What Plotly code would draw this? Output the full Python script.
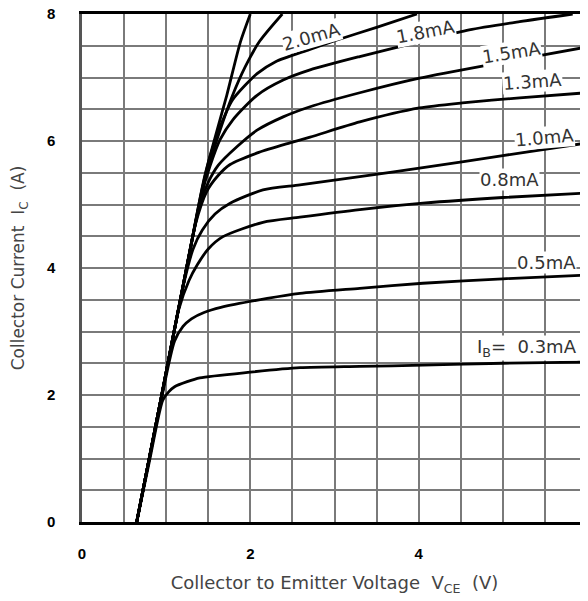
import plotly.graph_objects as go

# ---- data (Vce in V, Ic in A) ----
ib_names = ["unlabeled (top 1)", "unlabeled (top 2)", "2.0mA", "1.8mA", "1.5mA",
            "1.3mA", "1.0mA", "0.8mA", "0.5mA", "0.3mA"]

vce_s1 = [0.65, 0.95, 1.25, 1.45, 1.58, 1.72, 1.88, 2.00]
ic_s1 = [0, 2.02, 4.05, 5.40, 6.05, 6.72, 7.55, 8.0]

vce_s2 = [0.65, 0.95, 1.25, 1.45, 1.55, 1.64, 1.78, 1.94, 2.11, 2.38]
ic_s2 = [0, 2.02, 4.05, 5.35, 5.80, 6.17, 6.69, 7.17, 7.57, 8.0]

vce_20 = [0.65, 0.95, 1.25, 1.42, 1.52, 1.64, 1.79, 2.08, 2.30, 2.70, 3.03, 3.50, 3.98]
ic_20 = [0, 2.02, 4.05, 5.20, 5.75, 6.22, 6.65, 7.06, 7.25, 7.44, 7.59, 7.79, 8.0]

vce_18 = [0.65, 0.95, 1.25, 1.42, 1.52, 1.64, 1.79, 2.08, 2.39, 2.71, 3.30, 4.01, 4.60, 5.20, 5.83]
ic_18 = [0, 2.02, 4.05, 5.15, 5.60, 6.02, 6.33, 6.72, 6.96, 7.12, 7.33, 7.56, 7.75, 7.88, 8.0]

vce_15 = [0.65, 0.95, 1.25, 1.40, 1.50, 1.62, 1.84, 2.08, 2.39, 2.71, 3.30, 4.01, 5.00, 6.00]
ic_15 = [0, 2.02, 4.05, 5.00, 5.35, 5.62, 5.91, 6.17, 6.38, 6.54, 6.76, 6.99, 7.24, 7.48]

vce_13 = [0.65, 0.95, 1.20, 1.35, 1.48, 1.62, 1.76, 2.10, 2.47, 2.71, 3.30, 4.01, 4.52, 5.20, 6.00]
ic_13 = [0, 2.02, 3.72, 4.70, 5.20, 5.46, 5.63, 5.82, 5.97, 6.06, 6.30, 6.52, 6.60, 6.68, 6.76]

vce_10 = [0.65, 0.95, 1.20, 1.32, 1.43, 1.58, 1.76, 2.15, 2.59, 3.30, 4.05, 5.00, 6.00]
ic_10 = [0, 2.02, 3.70, 4.30, 4.60, 4.85, 5.02, 5.23, 5.31, 5.44, 5.58, 5.77, 5.97]

vce_08 = [0.65, 0.95, 1.15, 1.27, 1.37, 1.50, 1.67, 2.15, 2.59, 3.30, 4.05, 5.00, 6.00]
ic_08 = [0, 2.00, 3.35, 3.80, 4.05, 4.30, 4.49, 4.72, 4.80, 4.92, 5.02, 5.11, 5.18]

vce_05 = [0.65, 0.95, 1.10, 1.20, 1.30, 1.45, 1.65, 2.20, 2.59, 3.30, 4.05, 5.00, 6.00]
ic_05 = [0, 1.98, 2.85, 3.08, 3.20, 3.30, 3.38, 3.52, 3.60, 3.68, 3.76, 3.83, 3.89]

vce_03 = [0.65, 0.80, 0.96, 1.03, 1.10, 1.25, 1.40, 2.00, 2.59, 3.30, 4.05, 5.00, 6.00]
ic_03 = [0, 0.95, 1.92, 2.05, 2.13, 2.21, 2.27, 2.36, 2.43, 2.45, 2.47, 2.50, 2.52]

curves_v = [vce_s1, vce_s2, vce_20, vce_18, vce_15, vce_13, vce_10, vce_08, vce_05, vce_03]
curves_i = [ic_s1, ic_s2, ic_20, ic_18, ic_15, ic_13, ic_10, ic_08, ic_05, ic_03]

x_ticks = [0, 2, 4, 6]
y_ticks = [0, 2, 4, 6, 8]

# curve label texts
label_texts = ["2.0mA", "1.8mA", "1.5mA", "1.3mA", "1.0mA", "0.8mA", "0.5mA",
               "I<sub>B</sub>=\u00a0 0.3mA"]

# ---- label placement (layout, not data) ----
label_pos = [
    (2.73, 7.64, -16), (4.08, 7.73, -11), (5.10, 7.40, -9), (5.35, 6.93, -4),
    (5.50, 6.05, -5), (5.08, 5.39, 0), (5.52, 4.09, 0), (5.29, 2.74, 0),
]

fig = go.Figure()
for name, xs, ys in zip(ib_names, curves_v, curves_i):
    fig.add_trace(go.Scatter(
        x=xs, y=ys, mode="lines", name=name,
        line=dict(color="black", width=2.8, shape="spline", smoothing=0.7),
        hoverinfo="skip",
    ))

for txt, (lx, ly, ang) in zip(label_texts, label_pos):
    fig.add_annotation(
        x=lx, y=ly, xref="x", yref="y", text=txt, showarrow=False,
        textangle=ang, bgcolor="white", borderpad=0,
        font=dict(family="DejaVu Sans", size=18, color="#333333"),
    )

grid_col = "#7a7a7a"
fig.update_layout(
    width=588, height=601,
    margin=dict(l=74, r=9, t=6, b=87),
    paper_bgcolor="white", plot_bgcolor="white",
    showlegend=False,
    xaxis=dict(
        range=[0, 6], tickvals=x_ticks, ticktext=[str(v) for v in x_ticks],
        showgrid=True, gridcolor=grid_col, gridwidth=1.8,
        minor=dict(dtick=0.5, tick0=0, showgrid=True, gridcolor=grid_col, gridwidth=1.8),
        showline=True, linecolor="black", linewidth=2.5, mirror=True,
        zeroline=False, ticks="", ticklabelstandoff=16, ticklabeloverflow="allow",
        tickfont=dict(family="Liberation Sans", size=15, color="black", weight="bold"),
        title=dict(text="Collector to Emitter Voltage\u00a0\u00a0V<sub>CE</sub>\u00a0\u00a0(V)",
                   font=dict(family="DejaVu Sans", size=18, color="#444444"), standoff=16),
        automargin=False,
    ),
    yaxis=dict(
        range=[0, 8], tickvals=y_ticks, ticktext=[str(v) for v in y_ticks],
        showgrid=True, gridcolor=grid_col, gridwidth=1.8,
        minor=dict(dtick=0.5, tick0=0, showgrid=True, gridcolor=grid_col, gridwidth=1.8),
        showline=True, linecolor="#555555", linewidth=2.5, mirror=False,
        zeroline=False, ticks="", ticklabelstandoff=21, ticklabeloverflow="allow",
        tickfont=dict(family="Liberation Sans", size=15, color="black", weight="bold"),
        title=dict(text="Collector Current\u00a0\u00a0I<sub>C</sub>\u00a0\u00a0(A)",
                   font=dict(family="DejaVu Sans", size=17, color="#444444"), standoff=22),
        automargin=False,
    ),
)

fig.write_html("out.html")
